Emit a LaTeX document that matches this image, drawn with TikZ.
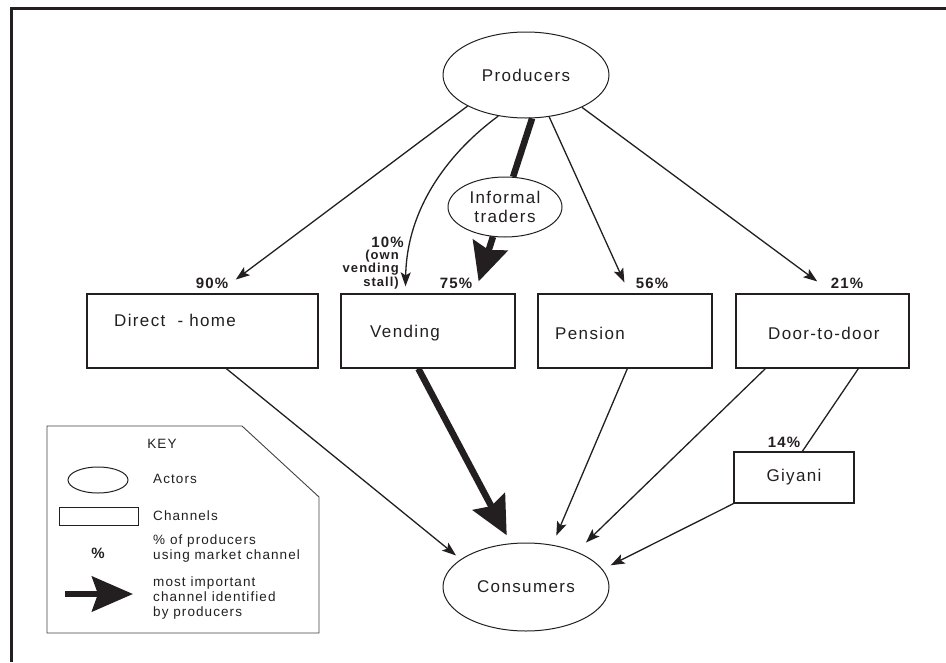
\documentclass[tikz,border=0pt]{standalone}
\usepackage{fontspec}
\setmainfont{Liberation Sans}[LetterSpace=8]
\usepackage{tikz}
\usetikzlibrary{arrows.meta,shapes.geometric}
\definecolor{ink}{RGB}{35,31,32}

\begin{document}
\begin{tikzpicture}[x=1pt,y=-1pt,
  every node/.style={font=\fontsize{17}{19}\selectfont,text=ink},
  act/.style={draw=ink,ellipse,line width=1pt,inner sep=0pt,align=center},
  chan/.style={draw=ink,rectangle,line width=1.3pt,minimum height=74pt,inner sep=0pt},
  txt/.style={anchor=west,inner sep=0pt},
  pct/.style={font=\bfseries\fontsize{15}{15}\selectfont,inner sep=0pt},
  note/.style={font=\bfseries\fontsize{13}{12}\selectfont,inner sep=0pt,align=right,anchor=east},
  keytxt/.style={font=\fontsize{13.5}{15}\selectfont,align=left,anchor=west,inner sep=0pt},
  arr/.style={-{Stealth[length=14pt,width=10pt,inset=3pt]},line width=1.3pt,draw=ink},
  main/.style={-{Stealth[length=38pt,width=36pt,inset=5pt]},line width=6.5pt,draw=ink}]
 \useasboundingbox (0,0) rectangle (946,662);
 \draw[ink,line width=3pt] (946,8.5) -- (11,8.5) -- (11,662);
 % actors
 \node[act,minimum width=166pt,minimum height=86pt] (prod) at (526,75) {Producers};
 \node[act,minimum width=114pt,minimum height=60pt] (inf) at (505,207) {Informal\\traders};
 \node[act,minimum width=166pt,minimum height=88pt] (cons) at (526,587) {Consumers};
 % channels
 \node[chan,minimum width=231pt] (dir) at (202.5,331) {};
 \node[chan,minimum width=174pt] (vend) at (428,331) {};
 \node[chan,minimum width=174pt] (pens) at (625,331) {};
 \node[chan,minimum width=173pt] (door) at (822.5,331) {};
 \node[chan,minimum width=120pt,minimum height=51pt] (giy) at (794,477.5) {Giyani};
 \node[txt] (dirT) at (114,320) {Direct\ \ - home};
 \node[txt] (vendT) at (370,333) {Vending};
 \node[txt] (pensT) at (555,333) {Pension};
 \node[txt] (doorT) at (768,333) {Door-to-door};
 % percentages
 \node[pct] (p90) at (212,283) {90\%};
 \node[pct] (p75) at (456,283) {75\%};
 \node[pct] (p56) at (652,283) {56\%};
 \node[pct] (p21) at (847,283) {21\%};
 \node[pct] (p14) at (784,442) {14\%};
 \node[pct,anchor=east] (p10) at (404,242) {10\%};
 \node[note] (own) at (399,269.5) {(own\\vending\\stall)};
 % producers to channels
 \draw[arr,shorten >=23pt] (prod.208.5) -- ([xshift=131pt]dir.north west);
 \draw[arr,shorten >=7pt] (prod.236) .. controls (452,150) and (407,205) .. ([xshift=65pt]vend.north west);
 \draw[ink,line width=6.5pt] (prod.278) -- (inf.75);
 \draw[main,shorten >=12.5pt] (inf.248) -- ([xshift=134.5pt]vend.north west);
 \draw[arr,shorten >=12pt] (prod.299.7) -- ([xshift=92pt]pens.north west);
 \draw[arr,shorten >=20pt] (prod.330.7) -- ([xshift=98pt]door.north west);
 % channels to consumers
 \draw[arr,shorten >=6pt] ([xshift=140pt]dir.south west) -- (cons.157);
 \draw[main,shorten >=9pt] ([xshift=78pt]vend.south west) -- (cons.109);
 \draw[arr,shorten >=10pt] ([xshift=90pt]pens.south west) -- (cons.58);
 \draw[arr,shorten >=13pt] ([xshift=30pt]door.south west) -- (cons.35);
 \draw[ink,line width=1.3pt] ([xshift=123pt]door.south west) -- ([xshift=69pt]giy.north west);
 \draw[arr,shorten >=9pt] (giy.south west) -- (cons.13);
 % key
 \draw[ink!85,line width=0.9pt] (47,426) -- (242,426) -- (319,497) -- (319,633) -- (47,633) -- cycle;
 \node[keytxt,anchor=center] (key) at (162,444) {KEY};
 \node[act,minimum width=60pt,minimum height=26pt] (kact) at (98,480) {};
 \node[draw=ink,rectangle,line width=1pt,minimum width=79pt,minimum height=18pt,inner sep=0pt] (kchan) at (98.5,516) {};
 \node[pct] (kpct) at (98,553) {\%};
 \coordinate (ka) at (65,594);
 \coordinate (kb) at (133,594);
 \draw[-{Stealth[length=41pt,width=35pt,inset=6pt]},ink,line width=6pt] (ka) -- (kb);
 \node[keytxt] (kt1) at (153,479) {Actors};
 \node[keytxt] (kt2) at (153,516) {Channels};
 \node[keytxt] (kt3) at (153,548.5) {\% of producers\\using market channel};
 \node[keytxt] (kt4) at (153,598) {most important\\channel identified\\by producers};
\end{tikzpicture}
\end{document}
